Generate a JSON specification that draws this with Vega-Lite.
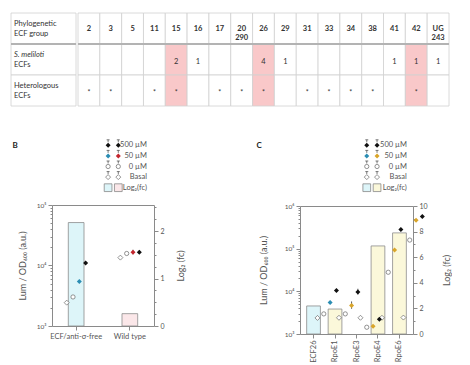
{
"$schema": "https://vega.github.io/schema/vega-lite/v6.json",
"padding": {"left": 10, "top": 12, "right": 0, "bottom": 0},
"background": "white",
"config": {
 "font": "Lato",
 "view": {"stroke": null},
 "axis": {"domainColor": "#8a8a8a", "tickColor": "#8a8a8a", "labelColor": "#555", "titleColor": "#555", "labelFontSize": 7, "titleFontSize": 9, "titleFontWeight": "normal", "grid": false}
},
"datasets": {
 "cells": [
  {"g":"2","r":"h","t":"2"},{"g":"2","r":"m","t":""},{"g":"2","r":"e","t":"*"},
  {"g":"3","r":"h","t":"3"},{"g":"3","r":"m","t":""},{"g":"3","r":"e","t":"*"},
  {"g":"5","r":"h","t":"5"},{"g":"5","r":"m","t":""},{"g":"5","r":"e","t":""},
  {"g":"11","r":"h","t":"11"},{"g":"11","r":"m","t":""},{"g":"11","r":"e","t":"*"},
  {"g":"15","r":"h","t":"15"},{"g":"15","r":"m","t":"2"},{"g":"15","r":"e","t":"*"},
  {"g":"16","r":"h","t":"16"},{"g":"16","r":"m","t":"1"},{"g":"16","r":"e","t":""},
  {"g":"17","r":"h","t":"17"},{"g":"17","r":"m","t":""},{"g":"17","r":"e","t":"*"},
  {"g":"20\n290","r":"h","t":"20\n290"},{"g":"20\n290","r":"m","t":""},{"g":"20\n290","r":"e","t":"*"},
  {"g":"26","r":"h","t":"26"},{"g":"26","r":"m","t":"4"},{"g":"26","r":"e","t":"*"},
  {"g":"29","r":"h","t":"29"},{"g":"29","r":"m","t":"1"},{"g":"29","r":"e","t":""},
  {"g":"31","r":"h","t":"31"},{"g":"31","r":"m","t":""},{"g":"31","r":"e","t":"*"},
  {"g":"33","r":"h","t":"33"},{"g":"33","r":"m","t":""},{"g":"33","r":"e","t":"*"},
  {"g":"34","r":"h","t":"34"},{"g":"34","r":"m","t":""},{"g":"34","r":"e","t":"*"},
  {"g":"38","r":"h","t":"38"},{"g":"38","r":"m","t":""},{"g":"38","r":"e","t":"*"},
  {"g":"41","r":"h","t":"41"},{"g":"41","r":"m","t":"1"},{"g":"41","r":"e","t":""},
  {"g":"42","r":"h","t":"42"},{"g":"42","r":"m","t":"1"},{"g":"42","r":"e","t":"*"},
  {"g":"UG\n243","r":"h","t":"UG\n243"},{"g":"UG\n243","r":"m","t":"1"},{"g":"UG\n243","r":"e","t":""}
 ],
 "leg": [
  {"row":"500 µM","col":"s1"},{"row":"500 µM","col":"s2"},{"row":"500 µM","col":"t"},
  {"row":"50 µM","col":"s1"},{"row":"50 µM","col":"s2"},{"row":"50 µM","col":"t"},
  {"row":"0 µM","col":"s1"},{"row":"0 µM","col":"s2"},{"row":"0 µM","col":"t"},
  {"row":"Basal","col":"s1"},{"row":"Basal","col":"s2"},{"row":"Basal","col":"t"},
  {"row":"Log₂(fc)","col":"s1"},{"row":"Log₂(fc)","col":"s2"},{"row":"Log₂(fc)","col":"t"}
 ],
 "barsB": [{"cat":"ECF/anti-σ-free","fc":2.18},{"cat":"Wild type","fc":0.26}],
 "ptsB": [
  {"cat":"ECF/anti-σ-free","conc":"Basal","val":2430},
  {"cat":"ECF/anti-σ-free","conc":"0 µM","val":3020},
  {"cat":"ECF/anti-σ-free","conc":"50 µM","val":5460},
  {"cat":"ECF/anti-σ-free","conc":"500 µM","val":10950},
  {"cat":"Wild type","conc":"Basal","val":13500},
  {"cat":"Wild type","conc":"0 µM","val":15800},
  {"cat":"Wild type","conc":"50 µM","val":16600,"lo":15300,"hi":18200},
  {"cat":"Wild type","conc":"500 µM","val":16600,"lo":15500,"hi":17800}
 ],
 "barsC": [{"cat":"ECF26","fc":2.19},{"cat":"RpoE1","fc":1.95},{"cat":"RpoE4","fc":6.88},{"cat":"RpoE6","fc":7.9}],
 "ptsC": [
  {"cat":"ECF26","conc":"Basal","val":2380},
  {"cat":"ECF26","conc":"0 µM","val":2960},
  {"cat":"ECF26","conc":"50 µM","val":5480},
  {"cat":"ECF26","conc":"500 µM","val":10500},
  {"cat":"RpoE1","conc":"Basal","val":2400},
  {"cat":"RpoE1","conc":"0 µM","val":2960},
  {"cat":"RpoE1","conc":"50 µM","val":4650,"lo":3900,"hi":5800},
  {"cat":"RpoE1","conc":"500 µM","val":9700,"lo":8400,"hi":11500},
  {"cat":"RpoE3","conc":"Basal","val":2400},
  {"cat":"RpoE3","conc":"0 µM","val":1440},
  {"cat":"RpoE3","conc":"50 µM","val":1520},
  {"cat":"RpoE3","conc":"500 µM","val":2230},
  {"cat":"RpoE4","conc":"Basal","val":2400},
  {"cat":"RpoE4","conc":"0 µM","val":28000},
  {"cat":"RpoE4","conc":"50 µM","val":93000},
  {"cat":"RpoE4","conc":"500 µM","val":283000},
  {"cat":"RpoE6","conc":"Basal","val":2430},
  {"cat":"RpoE6","conc":"0 µM","val":159000},
  {"cat":"RpoE6","conc":"50 µM","val":462000},
  {"cat":"RpoE6","conc":"500 µM","val":566000}
 ]
},
"spacing": 27,
"vconcat": [
 {
  "spacing": 0,
  "hconcat": [
   {
    "width": 65, "height": 93,
    "data": {"values": [{"r":"h","a":"Phylogenetic","b":"ECF group"},{"r":"m","a":"S. meliloti","b":"ECFs"},{"r":"e","a":"Heterologous","b":"ECFs"}]},
    "encoding": {"y": {"field":"r","type":"nominal","scale":{"domain":["h","m","e"],"paddingInner":0,"paddingOuter":0},"axis":null}},
    "layer": [
     {"mark":{"type":"rect","fill":"white","stroke":"#d0d0d0","strokeWidth":0.8},
      "encoding":{"x":{"datum":"lab","type":"nominal","scale":{"paddingInner":0,"paddingOuter":0},"axis":null}}},
     {"transform":[{"filter":"datum.r=='h'"}],"mark":{"type":"rule","stroke":"#b3b3b3","strokeWidth":2},
      "encoding":{"y":{"field":"r","type":"nominal","bandPosition":1,"axis":null}}},
     {"transform":[{"filter":"datum.r!='m'"}],"mark":{"type":"text","align":"left","dx":3,"dy":-5,"fontSize":7.5,"fill":"#333"},
      "encoding":{"x":{"datum":"lab","type":"nominal","bandPosition":0,"axis":null},"text":{"field":"a"}}},
     {"transform":[{"filter":"datum.r=='m'"}],"mark":{"type":"text","align":"left","dx":3,"dy":-5,"fontSize":7.5,"fontStyle":"italic","fill":"#333"},
      "encoding":{"x":{"datum":"lab","type":"nominal","bandPosition":0,"axis":null},"text":{"field":"a"}}},
     {"mark":{"type":"text","align":"left","dx":3,"dy":5,"fontSize":7.5,"fill":"#333"},
      "encoding":{"x":{"datum":"lab","type":"nominal","bandPosition":0,"axis":null},"text":{"field":"b"}}}
    ]
   },
   {
    "width": 371, "height": 93,
    "data": {"name":"cells"},
    "encoding": {"y": {"field":"r","type":"nominal","scale":{"domain":["h","m","e"],"paddingInner":0,"paddingOuter":0},"axis":null}},
    "layer": [
     {"mark":{"type":"rect","stroke":"#d0d0d0","strokeWidth":0.8},
      "encoding":{"x":{"field":"g","type":"nominal","sort":null,"scale":{"domain":["2","3","5","11","15","16","17","20\n290","26","29","31","33","34","38","41","42","UG\n243"],"paddingInner":0,"paddingOuter":0},"axis":null},
       "fill":{"condition":{"test":"datum.r!='h' && (datum.g=='15'||datum.g=='26'||datum.g=='42')","value":"#f9c8c9"},"value":"white"}}},
     {"transform":[{"filter":"datum.r=='h'"}],"mark":{"type":"rule","stroke":"#b3b3b3","strokeWidth":2},
      "encoding":{"y":{"field":"r","type":"nominal","bandPosition":1,"axis":null}}},
     {"transform":[{"filter":"datum.r=='h'"}],"mark":{"type":"text","fontSize":7.5,"fontWeight":"bold","fill":"#333","lineBreak":"\n","lineHeight":9},
      "encoding":{"x":{"field":"g","type":"nominal","sort":null,"axis":null},"text":{"field":"t"}}},
     {"transform":[{"filter":"datum.r=='m' && datum.t!=''"}],"mark":{"type":"text","fontSize":7.5,"fill":"#333","dy":2},
      "encoding":{"x":{"field":"g","type":"nominal","sort":null,"axis":null},"text":{"field":"t"}}},
     {"transform":[{"filter":"datum.r=='e' && datum.t!=''"}],"mark":{"type":"text","fontSize":7,"fill":"#333","dy":2},
      "encoding":{"x":{"field":"g","type":"nominal","sort":null,"axis":null},"text":{"field":"t"}}}
    ]
   }
  ]
 },
 {
  "spacing": 0,
  "hconcat": [
   {"width": 1, "height": 1, "data": {"values": [{}]}, "mark": {"type": "text", "text": ""}},
   {
  "spacing": 70,
  "hconcat": [
   {
    "spacing": 7,
    "vconcat": [
     {
      "width": 102, "height": 53,
      "data": {"name":"leg"},
      "encoding": {
       "x": {"field":"col","type":"nominal","scale":{"domain":["p1","p2","p3","p4","p5","s1","s2","a","b","t"],"paddingInner":0,"paddingOuter":0},"axis":null},
       "y": {"field":"row","type":"nominal","scale":{"domain":["500 µM","50 µM","0 µM","Basal","Log₂(fc)"],"paddingInner":0,"paddingOuter":0},
             "axis":{"title":"B","labels":false,"ticks":false,"domain":false,"titleAngle":0,"titleX":-40,"titleY":5.3,"titleAlign":"left","titleBaseline":"middle","titleFontWeight":"bold","titleFontSize":8,"titleColor":"#222"}}
      },
      "layer": [
       {"transform":[{"filter":"datum.col!='t' && datum.row!='Log₂(fc)'"}],"mark":{"type":"point","shape":"M0,-1.2L0,-2.2M-0.6,-2.2L0.6,-2.2","size":25,"stroke":"#444","strokeWidth":0.7,"filled":false,"opacity":1}},
       {"transform":[{"filter":"datum.col!='t' && datum.row=='500 µM'"}],"mark":{"type":"point","shape":"diamond","size":25,"filled":true,"fill":"#111","strokeWidth":0,"opacity":1}},
       {"transform":[{"filter":"datum.col!='t' && datum.row=='50 µM'"}],"mark":{"type":"point","shape":"diamond","size":25,"filled":true,"strokeWidth":0,"opacity":1},
        "encoding":{"fill":{"field":"col","type":"nominal","scale":{"domain":["s1","s2"],"range":["#2b8db3","#c4262e"]},"legend":null}}},
       {"transform":[{"filter":"datum.col!='t' && datum.row=='0 µM'"}],"mark":{"type":"point","shape":"circle","size":18,"filled":true,"fill":"white","stroke":"#666","strokeWidth":0.7,"opacity":1}},
       {"transform":[{"filter":"datum.col!='t' && datum.row=='Basal'"}],"mark":{"type":"point","shape":"diamond","size":25,"filled":true,"fill":"white","stroke":"#666","strokeWidth":0.7,"opacity":1}},
       {"transform":[{"filter":"datum.col!='t' && datum.row=='Log₂(fc)'"}],"mark":{"type":"point","shape":"square","size":60,"filled":true,"stroke":"#888","strokeWidth":0.8,"opacity":1},
        "encoding":{"fill":{"field":"col","type":"nominal","scale":{"domain":["s1","s2"],"range":["#ddf5f9","#fbe7e9"]},"legend":null}}},
       {"transform":[{"filter":"datum.col=='t'"}],"mark":{"type":"text","align":"right","dx":-2,"fontSize":7.5,"fill":"#555"},
        "encoding":{"x":{"field":"col","type":"nominal","bandPosition":1,"axis":null},"text":{"field":"row"}}}
      ],
      "resolve": {"scale": {"fill": "independent"}}
     },
     {
      "width": 102, "height": 121,
      "view": {"stroke": "#8a8a8a"},
      "encoding": {"x": {"field":"cat","type":"nominal","sort":null,"scale":{"domain":["ECF/anti-σ-free","Wild type"],"paddingInner":0.1,"paddingOuter":0},
                         "axis":{"title":null,"labelAngle":0,"tickSize":4,"labelFontSize":7.5,"domain":false,"labelPadding":2}}},
      "layer": [
       {"data":{"name":"barsB"},"mark":{"type":"bar","width":{"band":0.325},"stroke":"#8c8c8c","strokeWidth":0.8},
        "encoding":{
         "y":{"field":"fc","type":"quantitative","scale":{"domain":[0,2.55],"nice":false},
              "axis":{"orient":"right","title":"Log₂ (fc)","values":[0,0.25,0.5,0.75,1,1.25,1.5,1.75,2,2.25,2.5],"labelExpr":"datum.value % 1 == 0 ? format(datum.value, 'd') : ''","tickSize":{"condition":{"test":"datum.value % 1 == 0","value":4},"value":2},"labelOverlap":false,"domain":false,"labelPadding":2,
                      "titleAngle":270,"titleX":26,"titleBaseline":"middle"}},
         "fill":{"field":"cat","type":"nominal","scale":{"domain":["ECF/anti-σ-free","Wild type"],"range":["#ddf5f9","#fbe7e9"]},"legend":null}}},
       {"data":{"name":"ptsB"},
        "encoding":{
         "xOffset":{"field":"conc","type":"nominal","scale":{"domain":["_a","Basal","0 µM","50 µM","500 µM","_b"],"paddingInner":0,"paddingOuter":0.83}},
         "y":{"field":"val","type":"quantitative","scale":{"type":"log","domain":[1000,100000],"nice":false},
              "axis":{"orient":"left","title":"Lum / OD₆₀₀ (a.u.)","values":[1000,2000,3000,4000,5000,6000,7000,8000,9000,10000,20000,30000,40000,50000,60000,70000,80000,90000,100000],
                      "labelExpr":"datum.value==1000?'10³':datum.value==10000?'10⁴':datum.value==100000?'10⁵':''",
                      "tickSize":{"condition":{"test":"datum.value==1000||datum.value==10000||datum.value==100000","value":4},"value":2},
                      "labelOverlap":false,"labelFlush":false,"domain":false,"labelFontSize":6.5,"labelPadding":2,
                      "titleX":-30,"titleBaseline":"middle"}}},
        "layer": [
         {"transform":[{"filter":"isValid(datum.lo)"}],"mark":{"type":"rule","stroke":"#333","strokeWidth":0.8},
          "encoding":{"y":{"field":"lo","type":"quantitative"},"y2":{"field":"hi"}}},
         {"transform":[{"filter":"datum.conc=='Basal'"}],"mark":{"type":"point","shape":"diamond","size":25,"filled":true,"fill":"white","stroke":"#666","strokeWidth":0.7,"opacity":1}},
         {"transform":[{"filter":"datum.conc=='0 µM'"}],"mark":{"type":"point","shape":"circle","size":18,"filled":true,"fill":"white","stroke":"#666","strokeWidth":0.7,"opacity":1}},
         {"transform":[{"filter":"datum.conc=='50 µM'"}],"mark":{"type":"point","shape":"diamond","size":25,"filled":true,"strokeWidth":0,"opacity":1},
          "encoding":{"fill":{"field":"cat","type":"nominal","scale":{"domain":["ECF/anti-σ-free","Wild type"],"range":["#2b8db3","#c4262e"]},"legend":null}}},
         {"transform":[{"filter":"datum.conc=='500 µM'"}],"mark":{"type":"point","shape":"diamond","size":25,"filled":true,"fill":"#111","strokeWidth":0,"opacity":1}}
        ]}
      ],
      "resolve": {"scale": {"y": "independent", "fill": "independent"}}
     }
    ]
   },
   {
    "spacing": 7,
    "vconcat": [
     {
      "width": 113, "height": 53,
      "data": {"name":"leg"},
      "encoding": {
       "x": {"field":"col","type":"nominal","scale":{"domain":["p1","p2","p3","p4","p5","p6","s1","s2","a","b","t"],"paddingInner":0,"paddingOuter":0},"axis":null},
       "y": {"field":"row","type":"nominal","scale":{"domain":["500 µM","50 µM","0 µM","Basal","Log₂(fc)"],"paddingInner":0,"paddingOuter":0},
             "axis":{"title":"C","labels":false,"ticks":false,"domain":false,"titleAngle":0,"titleX":-44,"titleY":5.3,"titleAlign":"left","titleBaseline":"middle","titleFontWeight":"bold","titleFontSize":8,"titleColor":"#222"}}
      },
      "layer": [
       {"transform":[{"filter":"datum.col!='t' && datum.row!='Log₂(fc)'"}],"mark":{"type":"point","shape":"M0,-1.2L0,-2.2M-0.6,-2.2L0.6,-2.2","size":25,"stroke":"#444","strokeWidth":0.7,"filled":false,"opacity":1}},
       {"transform":[{"filter":"datum.col!='t' && datum.row=='500 µM'"}],"mark":{"type":"point","shape":"diamond","size":25,"filled":true,"fill":"#111","strokeWidth":0,"opacity":1}},
       {"transform":[{"filter":"datum.col!='t' && datum.row=='50 µM'"}],"mark":{"type":"point","shape":"diamond","size":25,"filled":true,"strokeWidth":0,"opacity":1},
        "encoding":{"fill":{"field":"col","type":"nominal","scale":{"domain":["s1","s2"],"range":["#2b8db3","#d9a52a"]},"legend":null}}},
       {"transform":[{"filter":"datum.col!='t' && datum.row=='0 µM'"}],"mark":{"type":"point","shape":"circle","size":18,"filled":true,"fill":"white","stroke":"#666","strokeWidth":0.7,"opacity":1}},
       {"transform":[{"filter":"datum.col!='t' && datum.row=='Basal'"}],"mark":{"type":"point","shape":"diamond","size":25,"filled":true,"fill":"white","stroke":"#666","strokeWidth":0.7,"opacity":1}},
       {"transform":[{"filter":"datum.col!='t' && datum.row=='Log₂(fc)'"}],"mark":{"type":"point","shape":"square","size":60,"filled":true,"stroke":"#888","strokeWidth":0.8,"opacity":1},
        "encoding":{"fill":{"field":"col","type":"nominal","scale":{"domain":["s1","s2"],"range":["#ddf5f9","#fbf8da"]},"legend":null}}},
       {"transform":[{"filter":"datum.col=='t'"}],"mark":{"type":"text","align":"right","dx":-1,"fontSize":7.5,"fill":"#555"},
        "encoding":{"x":{"field":"col","type":"nominal","bandPosition":1,"axis":null},"text":{"field":"row"}}}
      ],
      "resolve": {"scale": {"fill": "independent"}}
     },
     {
      "width": 113, "height": 128,
      "view": {"stroke": "#8a8a8a"},
      "encoding": {"x": {"field":"cat","type":"nominal","sort":null,"scale":{"domain":["ECF26","RpoE1","RpoE3","RpoE4","RpoE6"],"paddingInner":0,"paddingOuter":0.13},
                         "axis":{"title":null,"labelAngle":270,"tickSize":4,"labelFontSize":7.5,"domain":false,"labelPadding":2}}},
      "layer": [
       {"data":{"name":"barsC"},"mark":{"type":"bar","width":{"band":0.64},"stroke":"#8c8c8c","strokeWidth":0.8},
        "encoding":{
         "y":{"field":"fc","type":"quantitative","scale":{"domain":[0,10],"nice":false},
              "axis":{"orient":"right","title":"Log₂ (fc)","values":[0,1,2,3,4,5,6,7,8,9,10],"labelExpr":"datum.value % 2 == 0 ? format(datum.value, 'd') : ''","tickSize":{"condition":{"test":"datum.value % 2 == 0","value":4},"value":2},"labelOverlap":false,"domain":false,"labelPadding":2,
                      "titleAngle":270,"titleX":33,"titleBaseline":"middle"}},
         "fill":{"field":"cat","type":"nominal","scale":{"domain":["ECF26","RpoE1","RpoE3","RpoE4","RpoE6"],"range":["#ddf5f9","#fbf8da","#fbf8da","#fbf8da","#fbf8da"]},"legend":null}}},
       {"data":{"name":"ptsC"},
        "encoding":{
         "xOffset":{"field":"conc","type":"nominal","scale":{"domain":["Basal","0 µM","50 µM","500 µM"],"paddingInner":0,"paddingOuter":0.74}},
         "y":{"field":"val","type":"quantitative","scale":{"type":"log","domain":[1000,1000000],"nice":false},
              "axis":{"orient":"left","title":"Lum / OD₆₀₀ (a.u.)","values":[1000,2000,3000,4000,5000,6000,7000,8000,9000,10000,20000,30000,40000,50000,60000,70000,80000,90000,100000,200000,300000,400000,500000,600000,700000,800000,900000,1000000],
                      "labelExpr":"datum.value==1000?'10³':datum.value==10000?'10⁴':datum.value==100000?'10⁵':datum.value==1000000?'10⁶':''",
                      "tickSize":{"condition":{"test":"datum.value==1000||datum.value==10000||datum.value==100000||datum.value==1000000","value":4},"value":2},
                      "labelOverlap":false,"labelFlush":false,"domain":false,"labelFontSize":6.5,"labelPadding":2,
                      "titleX":-37,"titleBaseline":"middle"}}},
        "layer": [
         {"transform":[{"filter":"isValid(datum.lo)"}],"mark":{"type":"rule","stroke":"#333","strokeWidth":0.8},
          "encoding":{"y":{"field":"lo","type":"quantitative"},"y2":{"field":"hi"}}},
         {"transform":[{"filter":"datum.conc=='Basal'"}],"mark":{"type":"point","shape":"diamond","size":25,"filled":true,"fill":"white","stroke":"#666","strokeWidth":0.7,"opacity":1}},
         {"transform":[{"filter":"datum.conc=='0 µM'"}],"mark":{"type":"point","shape":"circle","size":18,"filled":true,"fill":"white","stroke":"#666","strokeWidth":0.7,"opacity":1}},
         {"transform":[{"filter":"datum.conc=='50 µM'"}],"mark":{"type":"point","shape":"diamond","size":25,"filled":true,"strokeWidth":0,"opacity":1},
          "encoding":{"fill":{"field":"cat","type":"nominal","scale":{"domain":["ECF26","RpoE1","RpoE3","RpoE4","RpoE6"],"range":["#2b8db3","#d9a52a","#d9a52a","#d9a52a","#d9a52a"]},"legend":null}}},
         {"transform":[{"filter":"datum.conc=='500 µM'"}],"mark":{"type":"point","shape":"diamond","size":25,"filled":true,"fill":"#111","strokeWidth":0,"opacity":1}}
        ]}
      ],
      "resolve": {"scale": {"y": "independent", "fill": "independent"}}
     }
    ]
   }
  ]
   }
  ]
 }
]
}
